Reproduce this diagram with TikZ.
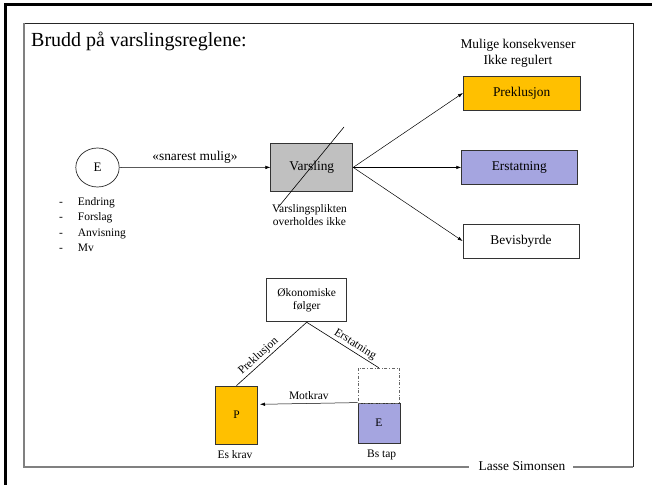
\documentclass[tikz,border=0pt]{standalone}
\usepackage{fontspec}
\setmainfont{Liberation Serif}
\usetikzlibrary{arrows.meta,shapes.geometric}
\definecolor{orangeF}{HTML}{FFC000}
\definecolor{lavF}{HTML}{A5A5E0}
\definecolor{grayF}{HTML}{C0C0C0}
\tikzset{
  big/.style={font=\fontsize{13.4pt}{16.5pt}\selectfont},
  small/.style={font=\fontsize{11.5pt}{12.5pt}\selectfont},
  boxed/.style={draw=black!80, line width=0.8pt, inner sep=0pt},
  arr/.style={-{Latex[length=5pt,width=3.5pt]}, line width=0.5pt},
  thinline/.style={line width=0.6pt},
  listitem/.style={small, anchor=base west, inner sep=0pt},
}
\begin{document}
\begin{tikzpicture}[x=1pt,y=-1pt]
\useasboundingbox (0,0) rectangle (652,484);
% outer frame
\draw[line width=3pt] (5,490) -- (5,4.3) -- (660,4.3);
% inner slide frame
\draw[black!85, line width=0.8pt] (24,23) -- (633,23) -- (633,467);
\draw[black!50, line width=1.2pt] (24,23) -- (24,467) -- (469,467);
\draw[black!50, line width=1.2pt] (573,467) -- (633,467);
\node[big, inner sep=0pt] (author) at (522,466.5) {Lasse Simonsen};

% title
\node[anchor=base west, inner sep=0pt, font=\fontsize{20pt}{24pt}\selectfont] (title) at (31,47) {Brudd på varslingsreglene:};

% upper part
\node[draw=black!85, line width=0.7pt, ellipse, minimum width=43.4pt, minimum height=39pt, inner sep=0pt, font=\fontsize{13pt}{15pt}\selectfont] (E) at (97.5,167.5) {E};
\node[boxed, fill=grayF, minimum width=82pt, minimum height=48.7pt, big] (V) at (311.8,167.4) {Varsling};
\draw[arr] (E.east) -- node[above=4pt, big, inner sep=0pt] (snar) {«snarest mulig»} (V.west);

\coordinate (x1) at (344,127);
\coordinate (x2) at (278,207.5);
\draw[thinline] (x1) -- (x2);

\node[small, align=center, inner sep=0pt] (vp) at (309.5,215) {Varslingsplikten\\overholdes ikke};

\node[listitem] (d1) at (59,205.6) {-};
\node[listitem] (d2) at (59,220.8) {-};
\node[listitem] (d3) at (59,236.0) {-};
\node[listitem] (d4) at (59,251.2) {-};
\node[listitem] (l1) at (77.7,205.6) {Endring};
\node[listitem] (l2) at (77.7,220.8) {Forslag};
\node[listitem] (l3) at (77.7,236.0) {Anvisning};
\node[listitem] (l4) at (77.7,251.2) {Mv};

\node[big, align=center, inner sep=0pt] (mk) at (518,53.3) {Mulige konsekvenser\\Ikke regulert};

\node[boxed, fill=orangeF, minimum width=116.7pt, minimum height=34pt, big] (Pk) at (521.7,93) {Preklusjon};
\node[boxed, fill=lavF, minimum width=115.3pt, minimum height=33.3pt, big] (Er) at (519.3,167.4) {Erstatning};
\node[boxed, fill=white, minimum width=116pt, minimum height=34pt, big] (Bv) at (521,241) {Bevisbyrde};

\draw[arr] (V.east) -- (Pk.west);
\draw[arr] (V.east) -- (Er.west);
\draw[arr] (V.east) -- (Bv.west);

% lower part
\node[boxed, minimum width=80pt, minimum height=43.7pt, small, align=center] (O) at (306.7,300) {Økonomiske\\følger};
\node[boxed, fill=orangeF, minimum width=41.6pt, minimum height=58pt, small] (Pb) at (236.5,415) {P};
\node[boxed, fill=lavF, minimum width=42pt, minimum height=40pt, small] (Eb) at (379,423) {E};
\node[draw=black!60, dash dot, line width=0.6pt, minimum width=41.6pt, minimum height=35pt, inner sep=0pt] (Db) at (378.7,385.5) {};

\draw[thinline] (O.south) -- node[sloped, above=1.5pt, pos=0.62, small, inner sep=0pt] (lp) {Preklusjon} (Pb.north);
\draw[thinline] (O.south) -- node[sloped, above=1.5pt, pos=0.62, small, inner sep=0pt] (le) {Erstatning} (Db.north);

\coordinate (mkend) at (260,404.3);
\draw[arr] (Eb.north west) -- node[above=4pt, small, inner sep=0pt] (mot) {Motkrav} (mkend);

\node[small, inner sep=0pt] (esk) at (235,455) {Es krav};
\node[small, inner sep=0pt] (bst) at (381.7,455) {Bs tap};
\end{tikzpicture}
\end{document}
